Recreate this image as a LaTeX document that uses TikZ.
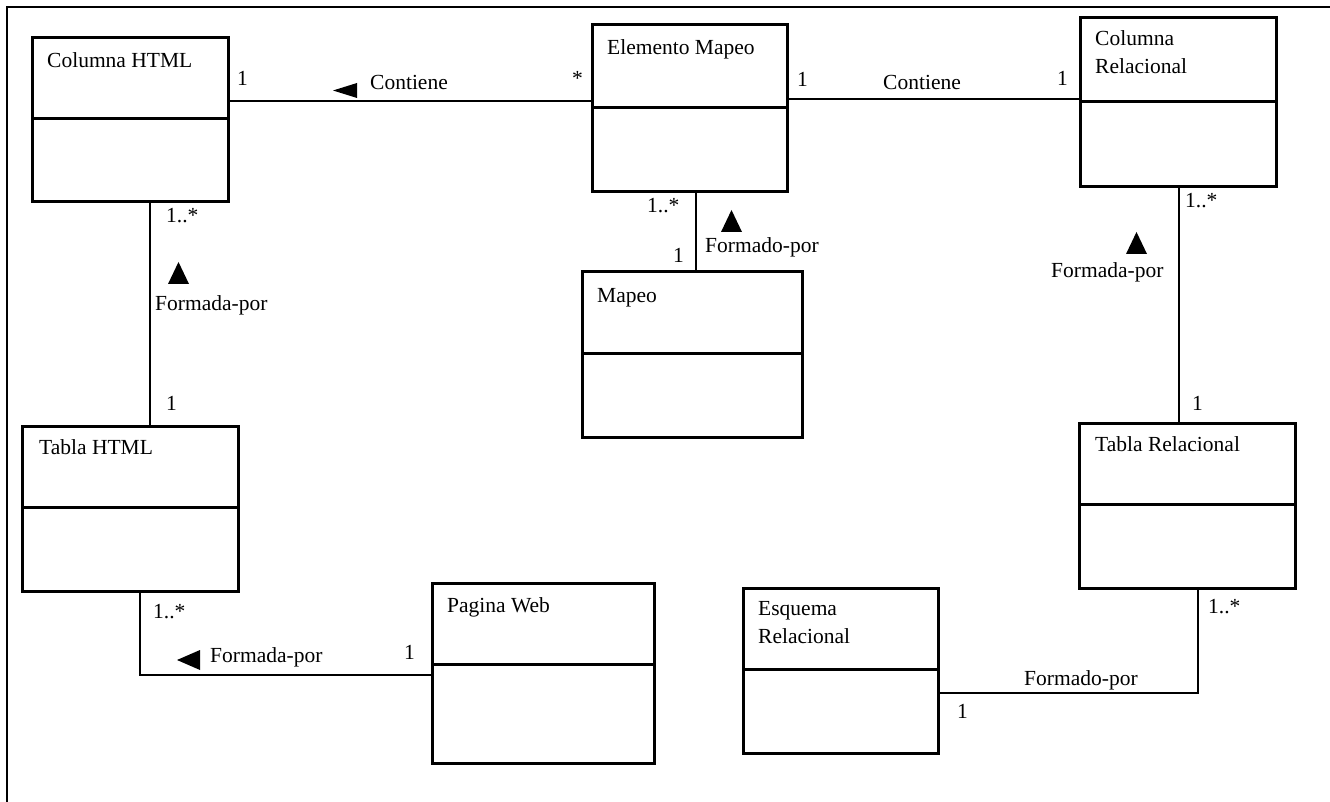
\documentclass[tikz,border=0pt]{standalone}
\usepackage{fontspec}
\setmainfont{Liberation Serif}
\usetikzlibrary{calc}
\begin{document}
\begin{tikzpicture}[x=1pt,y=-1pt,
  font=\fontsize{21.5}{26}\selectfont,
  classbox/.style={draw,line width=3pt,inner sep=0pt,outer sep=0pt},
  divider/.style={line width=3pt},
  assoc/.style={line width=1.2pt},
  lbl/.style={anchor=base west,inner sep=0pt},
  dirmark/.style={fill=black}]
\useasboundingbox (0,0) rectangle (1330,802);
% outer frame
\draw[line width=2.5pt] (7,802) -- (7,7) -- (1330,7);

% classes
\node[classbox,minimum width=196pt,minimum height=164pt] (colhtml) at (130,120) {};
\node[classbox,minimum width=195pt,minimum height=167pt] (elem) at (689.5,108.5) {};
\node[classbox,minimum width=196pt,minimum height=169pt] (colrel) at (1178,102.5) {};
\node[classbox,minimum width=220pt,minimum height=165pt] (mapeo) at (692,354.5) {};
\node[classbox,minimum width=216pt,minimum height=165pt] (tablahtml) at (130,508.5) {};
\node[classbox,minimum width=216pt,minimum height=165pt] (tablarel) at (1187,505.5) {};
\node[classbox,minimum width=222pt,minimum height=180pt] (pagina) at (543,673) {};
\node[classbox,minimum width=195pt,minimum height=165pt] (esquema) at (840.5,670.5) {};

% compartment dividers
\draw[divider] (colhtml.west |- 0,119) -- (colhtml.east |- 0,119);
\draw[divider] (elem.west |- 0,108) -- (elem.east |- 0,108);
\draw[divider] (colrel.west |- 0,102) -- (colrel.east |- 0,102);
\draw[divider] (mapeo.west |- 0,353) -- (mapeo.east |- 0,353);
\draw[divider] (tablahtml.west |- 0,507) -- (tablahtml.east |- 0,507);
\draw[divider] (tablarel.west |- 0,504) -- (tablarel.east |- 0,504);
\draw[divider] (pagina.west |- 0,664) -- (pagina.east |- 0,664);
\draw[divider] (esquema.west |- 0,669) -- (esquema.east |- 0,669);

% class names
\node[lbl] (t1) at (47,68) {Columna HTML};
\node[lbl] (t2) at (607,55) {Elemento Mapeo};
\node[lbl] (t3) at (1095,46) {Columna};
\node[lbl] (t3b) at (1095,74) {Relacional};
\node[lbl] (t4) at (597,302) {Mapeo};
\node[lbl] (t5) at (39,454) {Tabla HTML};
\node[lbl] (t6) at (1095,451) {Tabla Relacional};
\node[lbl] (t7) at (447,612) {Pagina Web};
\node[lbl] (t8) at (758,615) {Esquema};
\node[lbl] (t8b) at (758,643) {Relacional};

% associations
\draw[assoc] (colhtml.east |- 0,101) -- (elem.west |- 0,101);
\draw[assoc] (elem.east |- 0,99) -- (colrel.west |- 0,99);
\draw[assoc] (colhtml.south -| 150,0) -- (tablahtml.north -| 150,0);
\draw[assoc] (elem.south -| 696,0) -- (mapeo.north -| 696,0);
\draw[assoc] (colrel.south -| 1179,0) -- (tablarel.north -| 1179,0);
\draw[assoc] (tablahtml.south -| 140,0) |- (pagina.west |- 0,675);
\draw[assoc] (esquema.east |- 0,693) -| (tablarel.south -| 1198,0);

% reading-direction marks
\fill[dirmark] (333,90.5) -- (357,83) -- (357,98) -- cycle;
\fill[dirmark] (177,660) -- (200,650) -- (200,670) -- cycle;
\fill[dirmark] (168,284) -- (189,284) -- (178.5,262) -- cycle;
\fill[dirmark] (721,232) -- (742,232) -- (731.5,210) -- cycle;
\fill[dirmark] (1126,254) -- (1147,254) -- (1136.5,232) -- cycle;

% association names
\node[lbl] (a1) at (370,90) {Contiene};
\node[lbl] (a2) at (883,90) {Contiene};
\node[lbl] (a3) at (155,310) {Formada-por};
\node[lbl] (a4) at (705,253) {Formado-por};
\node[lbl] (a5) at (1051,278) {Formada-por};
\node[lbl] (a6) at (210,662) {Formada-por};
\node[lbl] (a7) at (1024,685) {Formado-por};

% multiplicities
\node[lbl] (m1) at (237,86) {1};
\node[lbl] (m2) at (572,86) {*};
\node[lbl] (m3) at (797,87) {1};
\node[lbl] (m4) at (1057,86) {1};
\node[lbl] (m5) at (166,223) {1..*};
\node[lbl] (m6) at (166,410) {1};
\node[lbl] (m7) at (647,213) {1..*};
\node[lbl] (m8) at (673,263) {1};
\node[lbl] (m9) at (1185,208) {1..*};
\node[lbl] (m10) at (1192,410) {1};
\node[lbl] (m11) at (153,618) {1..*};
\node[lbl] (m12) at (404,659) {1};
\node[lbl] (m13) at (1208,613) {1..*};
\node[lbl] (m14) at (957,718) {1};
\end{tikzpicture}
\end{document}
